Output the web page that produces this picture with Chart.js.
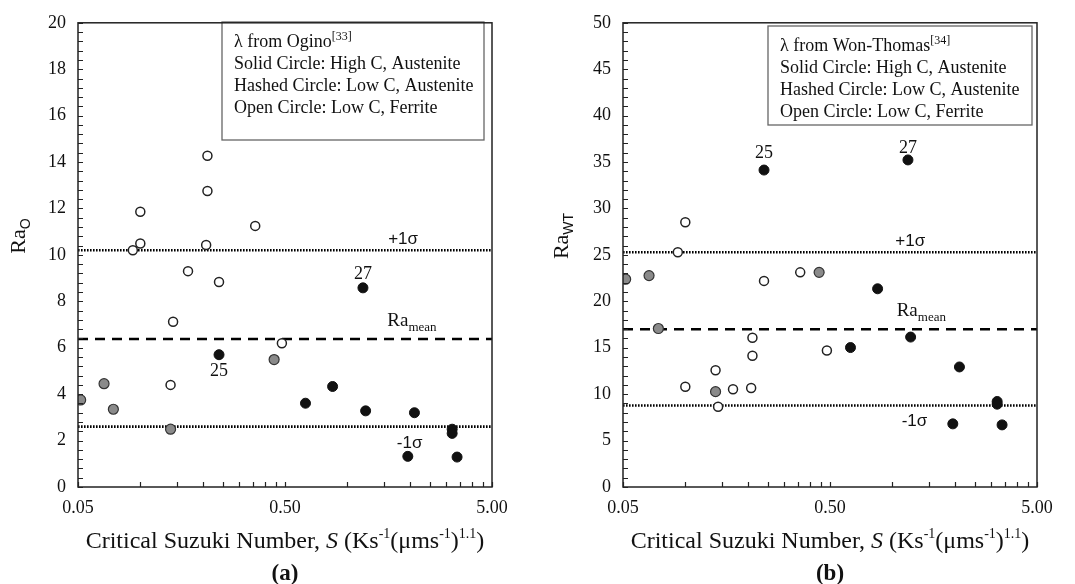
<!DOCTYPE html>
<html>
<head>
<meta charset="utf-8">
<script src="https://cdn.jsdelivr.net/npm/chart.js@4.4.0/dist/chart.umd.min.js"></script>
<style>
  html, body { margin: 0; padding: 0; background: #fff; }
  #wrap { position: relative; width: 1075px; height: 584px; }
  canvas { position: absolute; top: 0; }
</style>
</head>
<body>
<div id="wrap">
  <canvas id="chartA" width="537" height="584" style="left:0"></canvas>
  <canvas id="chartB" width="538" height="584" style="left:537px"></canvas>
</div>
<script>
// critical Suzuki number S of each sample, grouped by alloy type
const solidS  = [0.240, 0.628, 0.849, 1.19, 1.226, 1.96, 2.11, 3.21, 3.21, 3.39];
const hashedS = [0.0515, 0.0668, 0.0741, 0.140, 0.443];
const openS   = [0.092, 0.100, 0.100, 0.140, 0.144, 0.170, 0.208, 0.211, 0.211, 0.240, 0.359, 0.483];

// Ra with lambda from Ogino
const solidRaO  = [5.70, 3.61, 4.33, 8.58, 3.28, 1.32, 3.20, 2.49, 2.31, 1.29];
const hashedRaO = [3.75, 4.45, 3.35, 2.49, 5.49];
const openRaO   = [10.20, 10.49, 11.86, 4.40, 7.12, 9.30, 10.43, 14.27, 12.75, 8.83, 11.25, 6.19];

// Ra with lambda from Won-Thomas
const solidRaWT  = [34.14, 15.02, 21.35, 35.23, 16.15, 6.80, 12.93, 9.21, 8.92, 6.69];
const hashedRaWT = [22.38, 22.77, 17.07, 10.27, 23.12];
const openRaWT   = [25.28, 28.51, 10.80, 12.58, 8.65, 10.52, 10.66, 14.13, 16.08, 22.20, 23.12, 14.70];

// mean and +/- one standard deviation
const statsRaO  = { mean: 6.38, plus: 10.20, minus: 2.60 };
const statsRaWT = { mean: 17.0, plus: 25.28, minus: 8.78 };

// sample numbers called out on the plots (index into solid group)
const calloutIdx = [0, 3];
const calloutText = ['25', '27'];

const xTicks = [0.05, 0.5, 5];
const legendLines = ['Solid Circle: High C, Austenite', 'Hashed Circle: Low C, Austenite', 'Open Circle: Low C, Ferrite'];

const SERIF = '"Liberation Serif", "Times New Roman", serif';
const SANS = '"Liberation Sans", Arial, sans-serif';
const INK = '#111';

function pts(xs, ys) {
  return xs.map((x, i) => ({ x: x, y: ys[i] }));
}

// draw a run of text pieces; each piece may have its own font and baseline shift
function richText(ctx, parts, x, y, align) {
  let w = 0;
  parts.forEach(p => { ctx.font = p.font; w += ctx.measureText(p.t).width; });
  let cx = align === 'center' ? x - w / 2 : (align === 'right' ? x - w : x);
  ctx.textAlign = 'left';
  ctx.textBaseline = 'alphabetic';
  parts.forEach(p => {
    ctx.font = p.font;
    ctx.fillText(p.t, cx, y + (p.dy || 0));
    cx += ctx.measureText(p.t).width;
  });
}

function makePanel(id, cfg) {
  const canvas = document.getElementById(id);

  const decorPlugin = {
    id: 'decor',
    afterDatasetsDraw(chart) {
      const ctx = chart.ctx;
      const xs = chart.scales.x, ys = chart.scales.y;
      const a = chart.chartArea;
      ctx.save();
      ctx.fillStyle = INK;

      // +1 sigma / mean / -1 sigma tags
      richText(ctx, [{ t: '+1σ', font: '17px ' + SANS }],
        xs.getPixelForValue(cfg.tagX.plus), ys.getPixelForValue(cfg.stats.plus) - 6, 'center');
      richText(ctx, [{ t: '-1σ', font: '17px ' + SANS }],
        xs.getPixelForValue(cfg.tagX.minus), ys.getPixelForValue(cfg.stats.minus) + 21, 'center');
      richText(ctx, [{ t: 'Ra', font: '19px ' + SERIF }, { t: 'mean', font: '13px ' + SERIF, dy: 5 }],
        xs.getPixelForValue(cfg.tagX.mean), ys.getPixelForValue(cfg.stats.mean) - 13, 'left');

      // sample numbers
      calloutIdx.forEach((k, i) => {
        const px = xs.getPixelForValue(solidS[k]);
        const py = ys.getPixelForValue(cfg.solid[k]);
        richText(ctx, [{ t: calloutText[i], font: '18px ' + SERIF }], px, py + cfg.calloutDy[i], 'center');
      });

      // notes box
      const b = cfg.box;
      ctx.strokeStyle = '#666';
      ctx.lineWidth = 1.3;
      ctx.strokeRect(b.x, b.y, b.w, b.h);
      richText(ctx, [{ t: 'λ from ' + cfg.source, font: '18px ' + SERIF }, { t: cfg.ref, font: '12px ' + SERIF, dy: -7 }],
        b.x + 12, b.y + b.first, 'left');
      legendLines.forEach((s, i) => {
        richText(ctx, [{ t: s, font: '18px ' + SERIF }], b.x + 12, b.y + b.first + (i + 1) * 22, 'left');
      });

      // plot frame
      ctx.strokeStyle = '#222';
      ctx.lineWidth = 1.5;
      ctx.strokeRect(a.left, a.top, a.right - a.left, a.bottom - a.top);

      // inward ticks on the left and bottom axes
      ctx.lineWidth = 1.2;
      ctx.beginPath();
      for (let v = 0; v <= cfg.yMax + 1e-9; v += cfg.yMinor) {
        const py = Math.round(ys.getPixelForValue(v)) + 0.5;
        ctx.moveTo(a.left, py);
        ctx.lineTo(a.left + 5, py);
      }
      [0.05, 0.5].forEach(base => {
        for (let k = 1; k <= 10; k++) {
          const v = base * k;
          if (v > 5.0001) continue;
          const px = Math.round(xs.getPixelForValue(v)) + 0.5;
          ctx.moveTo(px, a.bottom);
          ctx.lineTo(px, a.bottom - 5);
        }
      });
      ctx.stroke();

      // axis titles
      const f = '24px ' + SERIF, fs = '14px ' + SERIF;
      richText(ctx, [
        { t: 'Critical Suzuki Number, ', font: f },
        { t: 'S', font: 'italic ' + f },
        { t: ' (Ks', font: f }, { t: '-1', font: fs, dy: -10 },
        { t: '(μms', font: f }, { t: '-1', font: fs, dy: -10 },
        { t: ')', font: f }, { t: '1.1', font: fs, dy: -10 }, { t: ')', font: f }
      ], (a.left + a.right) / 2, 548, 'center');
      richText(ctx, [{ t: cfg.letter, font: 'bold 23px ' + SERIF }], (a.left + a.right) / 2, 580, 'center');

      ctx.translate(cfg.yTitleX, 236);
      ctx.rotate(-Math.PI / 2);
      richText(ctx, [{ t: 'Ra', font: '22px ' + SERIF }, { t: cfg.sub, font: '14px ' + SANS, dy: 5 }], 0, 0, 'center');
      ctx.restore();
    }
  };

  const refLine = (v, dash, w) => ({
    type: 'line',
    data: [{ x: 0.05, y: v }, { x: 5, y: v }],
    borderColor: '#000',
    borderWidth: w,
    borderDash: dash,
    pointRadius: 0,
    order: 3
  });

  new Chart(canvas, {
    type: 'scatter',
    data: {
      datasets: [
        refLine(cfg.stats.plus, [1.6, 1.4], 2.6),
        refLine(cfg.stats.mean, [10, 7], 2.5),
        refLine(cfg.stats.minus, [1.6, 1.4], 2.6),
        {
          label: 'Open Circle',
          data: pts(openS, cfg.open),
          pointRadius: 4.5,
          pointBackgroundColor: '#fff',
          pointBorderColor: '#222',
          pointBorderWidth: 1.5,
          order: 1
        },
        {
          label: 'Hashed Circle',
          data: pts(hashedS, cfg.hashed),
          pointRadius: 5,
          pointBackgroundColor: '#8a8a8a',
          pointBorderColor: '#333',
          pointBorderWidth: 1.2,
          order: 1
        },
        {
          label: 'Solid Circle',
          data: pts(solidS, cfg.solid),
          pointRadius: 5,
          pointBackgroundColor: '#111',
          pointBorderColor: '#111',
          pointBorderWidth: 1,
          order: 1
        }
      ]
    },
    options: {
      responsive: false,
      animation: false,
      layout: { padding: { top: 16, right: canvas.width - cfg.right, left: 0, bottom: 0 } },
      plugins: { legend: { display: false }, tooltip: { enabled: false } },
      scales: {
        x: {
          type: 'logarithmic',
          min: 0.05,
          max: 5,
          grid: { display: false, drawTicks: false },
          border: { display: false },
          afterBuildTicks: s => { s.ticks = xTicks.map(v => ({ value: v })); },
          afterFit: s => { s.height = 584 - cfg.bottom; },
          ticks: {
            padding: 10,
            color: INK,
            font: { family: SERIF, size: 18 },
            maxRotation: 0,
            callback: v => Number(v).toFixed(2)
          }
        },
        y: {
          min: 0,
          max: cfg.yMax,
          grid: { display: false, drawTicks: false },
          border: { display: false },
          afterFit: s => { s.width = cfg.left; },
          ticks: {
            stepSize: cfg.yStep,
            padding: 12,
            color: INK,
            font: { family: SERIF, size: 18 }
          }
        }
      }
    },
    plugins: [decorPlugin]
  });
}

makePanel('chartA', {
  left: 78, right: 492, bottom: 487,
  yMax: 20, yStep: 2, yMinor: 0.4,
  solid: solidRaO, hashed: hashedRaO, open: openRaO,
  stats: statsRaO,
  tagX: { plus: 1.86, minus: 2.0, mean: 1.56 },
  calloutDy: [21, -9],
  box: { x: 222, y: 22, w: 262, h: 118, first: 25 },
  source: 'Ogino', ref: '[33]',
  letter: '(a)', sub: 'O', yTitleX: 25
});

makePanel('chartB', {
  left: 86, right: 500, bottom: 487,
  yMax: 50, yStep: 5, yMinor: 1,
  solid: solidRaWT, hashed: hashedRaWT, open: openRaWT,
  stats: statsRaWT,
  tagX: { plus: 1.22, minus: 1.28, mean: 1.05 },
  calloutDy: [-12, -7],
  box: { x: 231, y: 26, w: 264, h: 99, first: 25 },
  source: 'Won-Thomas', ref: '[34]',
  letter: '(b)', sub: 'WT', yTitleX: 31
});
</script>
</body>
</html>
